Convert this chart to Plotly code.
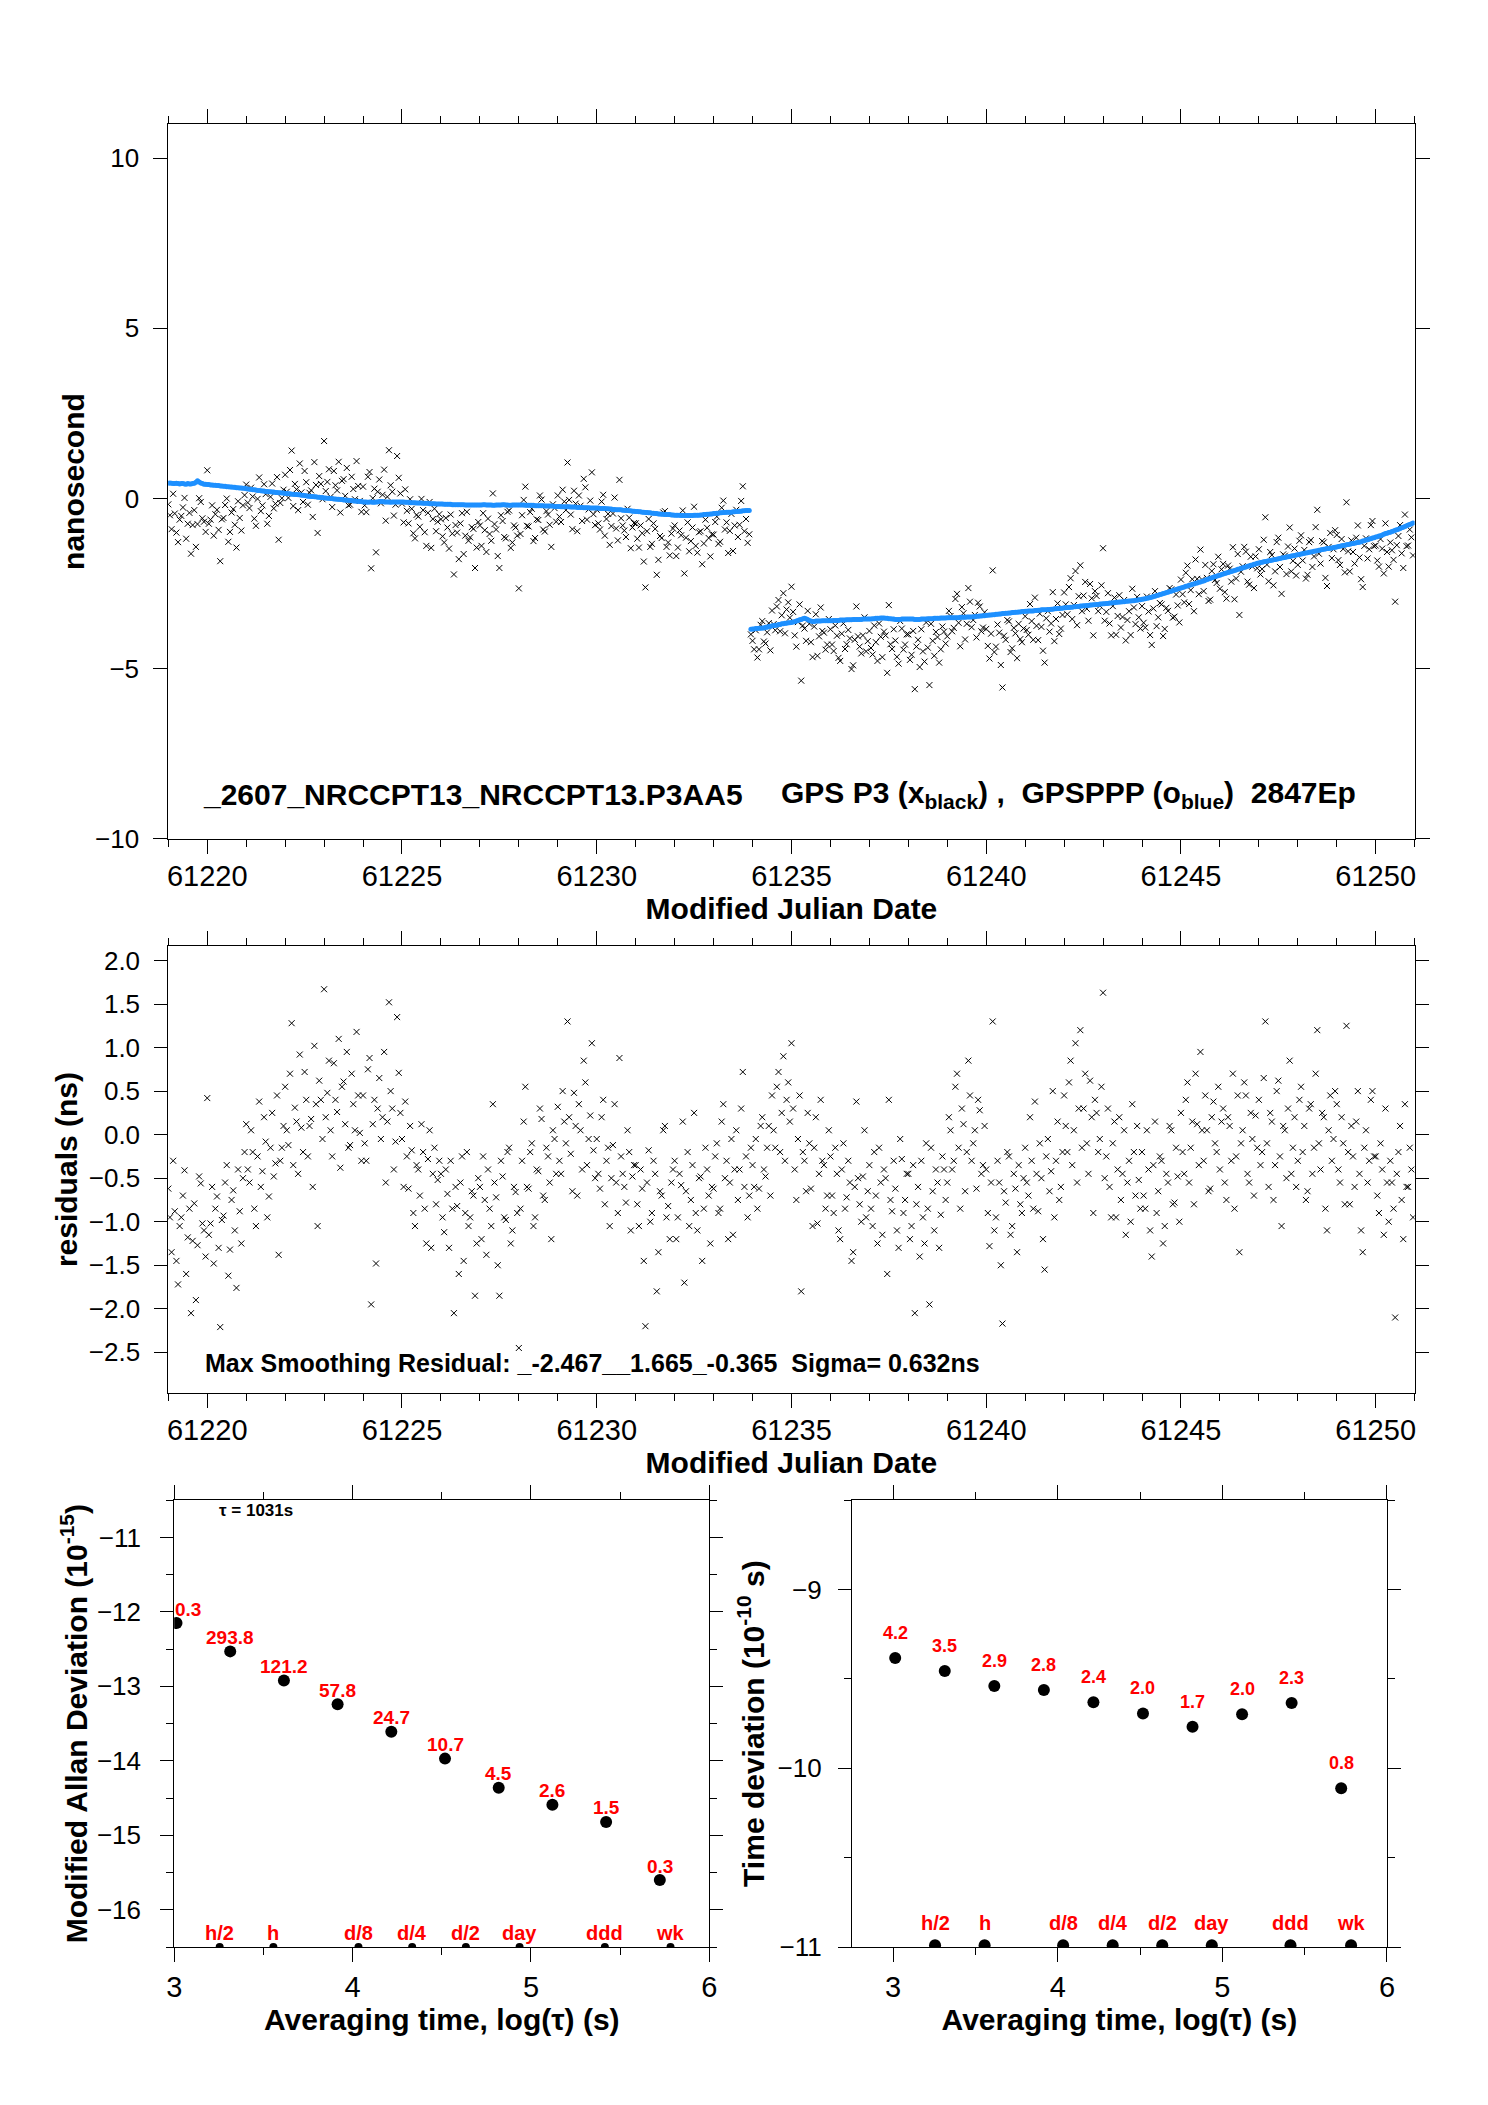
"""
GPS P3 vs GPSPPP comparison - time series, residuals and stability plots
"""
import plotly.graph_objects as go

# ---- data -------------------------------------------------------------
MJD_START = 61219

# GPSPPP (blue) clock difference, ns, one row per day (2 samples per hour)
PPP_NS = [
    [0.45, 0.46, 0.45, 0.44, 0.44, 0.45, 0.44, 0.43, 0.44, 0.44, 0.43, 0.42, 0.44, 0.43, 0.43, 0.44, 0.45, 0.48, 0.52, 0.49, 0.46, 0.44, 0.42, 0.42],
    [0.41, 0.41, 0.40, 0.40, 0.39, 0.39, 0.38, 0.38, 0.37, 0.37, 0.36, 0.36, 0.35, 0.35, 0.34, 0.34, 0.33, 0.33, 0.32, 0.32, 0.31, 0.31, 0.30, 0.30],
    [0.29, 0.28, 0.27, 0.27, 0.26, 0.26, 0.25, 0.24, 0.24, 0.23, 0.22, 0.22, 0.21, 0.21, 0.20, 0.20, 0.19, 0.19, 0.18, 0.18, 0.17, 0.17, 0.16, 0.16],
    [0.15, 0.15, 0.14, 0.14, 0.13, 0.13, 0.12, 0.12, 0.11, 0.11, 0.10, 0.10, 0.09, 0.08, 0.07, 0.07, 0.06, 0.06, 0.05, 0.05, 0.04, 0.04, 0.03, 0.03],
    [0.02, 0.02, 0.01, 0.01, 0.00, 0.00, -0.01, -0.01, -0.02, -0.02, -0.03, -0.03, -0.04, -0.04, -0.05, -0.05, -0.06, -0.06, -0.07, -0.07, -0.08, -0.08, -0.09, -0.09],
    [-0.10, -0.10, -0.10, -0.11, -0.10, -0.10, -0.11, -0.11, -0.10, -0.10, -0.09, -0.09, -0.09, -0.10, -0.10, -0.10, -0.10, -0.11, -0.10, -0.10, -0.10, -0.10, -0.10, -0.10],
    [-0.10, -0.10, -0.11, -0.11, -0.11, -0.12, -0.12, -0.12, -0.12, -0.13, -0.13, -0.13, -0.13, -0.14, -0.14, -0.14, -0.14, -0.15, -0.15, -0.15, -0.15, -0.16, -0.16, -0.16],
    [-0.16, -0.16, -0.17, -0.17, -0.17, -0.17, -0.17, -0.18, -0.18, -0.18, -0.18, -0.18, -0.18, -0.18, -0.18, -0.19, -0.19, -0.19, -0.19, -0.19, -0.19, -0.19, -0.19, -0.19],
    [-0.19, -0.19, -0.18, -0.18, -0.19, -0.19, -0.19, -0.19, -0.20, -0.20, -0.19, -0.19, -0.19, -0.19, -0.18, -0.18, -0.19, -0.19, -0.20, -0.20, -0.19, -0.19, -0.19, -0.19],
    [-0.19, -0.19, -0.19, -0.19, -0.20, -0.20, -0.20, -0.20, -0.20, -0.20, -0.21, -0.21, -0.21, -0.21, -0.21, -0.21, -0.22, -0.22, -0.22, -0.22, -0.22, -0.22, -0.23, -0.23],
    [-0.23, -0.23, -0.24, -0.24, -0.24, -0.24, -0.24, -0.24, -0.25, -0.25, -0.25, -0.25, -0.26, -0.26, -0.26, -0.26, -0.27, -0.27, -0.27, -0.27, -0.28, -0.28, -0.28, -0.28],
    [-0.28, -0.28, -0.29, -0.29, -0.29, -0.29, -0.30, -0.30, -0.31, -0.31, -0.32, -0.32, -0.33, -0.33, -0.33, -0.33, -0.34, -0.34, -0.35, -0.35, -0.36, -0.36, -0.37, -0.37],
    [-0.38, -0.38, -0.39, -0.39, -0.40, -0.40, -0.41, -0.41, -0.42, -0.42, -0.43, -0.43, -0.44, -0.44, -0.45, -0.45, -0.46, -0.46, -0.47, -0.47, -0.47, -0.47, -0.48, -0.48],
    [-0.49, -0.49, -0.49, -0.49, -0.50, -0.50, -0.50, -0.50, -0.50, -0.50, -0.50, -0.50, -0.49, -0.49, -0.49, -0.49, -0.48, -0.48, -0.47, -0.47, -0.46, -0.46, -0.45, -0.45],
    [-0.44, -0.44, -0.43, -0.43, -0.42, -0.42, -0.41, -0.41, -0.40, -0.40, -0.40, -0.40, -0.39, -0.39, -0.38, -0.38, -0.37, -0.37, -0.36, -0.36, -0.35, -0.35, -0.35, -3.84],
    [-3.83, -3.83, -3.82, -3.82, -3.81, -3.81, -3.80, -3.80, -3.78, -3.78, -3.76, -3.76, -3.74, -3.74, -3.72, -3.72, -3.70, -3.70, -3.68, -3.68, -3.66, -3.66, -3.65, -3.65],
    [-3.64, -3.63, -3.62, -3.60, -3.58, -3.56, -3.55, -3.53, -3.52, -3.53, -3.55, -3.58, -3.60, -3.61, -3.61, -3.60, -3.60, -3.60, -3.60, -3.59, -3.59, -3.59, -3.59, -3.59],
    [-3.59, -3.59, -3.58, -3.58, -3.58, -3.58, -3.57, -3.57, -3.57, -3.57, -3.56, -3.56, -3.56, -3.56, -3.55, -3.55, -3.55, -3.55, -3.55, -3.55, -3.54, -3.54, -3.54, -3.54],
    [-3.54, -3.54, -3.53, -3.53, -3.52, -3.52, -3.52, -3.51, -3.51, -3.51, -3.52, -3.52, -3.53, -3.53, -3.54, -3.54, -3.55, -3.55, -3.55, -3.55, -3.54, -3.54, -3.54, -3.54],
    [-3.54, -3.54, -3.54, -3.54, -3.55, -3.55, -3.55, -3.55, -3.54, -3.54, -3.54, -3.54, -3.53, -3.53, -3.53, -3.53, -3.52, -3.52, -3.52, -3.52, -3.51, -3.51, -3.51, -3.51],
    [-3.50, -3.50, -3.50, -3.50, -3.50, -3.50, -3.50, -3.50, -3.49, -3.49, -3.49, -3.49, -3.48, -3.48, -3.48, -3.48, -3.47, -3.47, -3.46, -3.46, -3.45, -3.45, -3.44, -3.44],
    [-3.43, -3.43, -3.42, -3.42, -3.41, -3.41, -3.40, -3.40, -3.39, -3.39, -3.38, -3.38, -3.37, -3.37, -3.36, -3.36, -3.35, -3.35, -3.34, -3.34, -3.33, -3.33, -3.32, -3.32],
    [-3.31, -3.31, -3.30, -3.30, -3.30, -3.30, -3.29, -3.29, -3.28, -3.28, -3.27, -3.27, -3.27, -3.27, -3.26, -3.26, -3.25, -3.25, -3.24, -3.24, -3.23, -3.23, -3.22, -3.22],
    [-3.21, -3.21, -3.20, -3.20, -3.19, -3.19, -3.18, -3.18, -3.17, -3.17, -3.16, -3.16, -3.15, -3.15, -3.14, -3.14, -3.13, -3.13, -3.12, -3.12, -3.11, -3.11, -3.10, -3.10],
    [-3.09, -3.09, -3.08, -3.08, -3.07, -3.07, -3.06, -3.06, -3.05, -3.05, -3.04, -3.04, -3.03, -3.03, -3.02, -3.02, -3.01, -3.01, -3.00, -3.00, -2.99, -2.99, -2.97, -2.97],
    [-2.96, -2.95, -2.94, -2.93, -2.92, -2.91, -2.90, -2.88, -2.87, -2.85, -2.84, -2.82, -2.81, -2.79, -2.78, -2.76, -2.75, -2.73, -2.72, -2.70, -2.69, -2.67, -2.66, -2.64],
    [-2.63, -2.61, -2.60, -2.58, -2.57, -2.55, -2.54, -2.52, -2.51, -2.49, -2.48, -2.46, -2.45, -2.43, -2.42, -2.40, -2.38, -2.36, -2.35, -2.33, -2.31, -2.29, -2.28, -2.26],
    [-2.25, -2.23, -2.22, -2.20, -2.19, -2.17, -2.16, -2.14, -2.13, -2.11, -2.10, -2.08, -2.07, -2.05, -2.04, -2.02, -2.01, -1.99, -1.98, -1.96, -1.95, -1.93, -1.92, -1.90],
    [-1.89, -1.88, -1.87, -1.86, -1.85, -1.84, -1.83, -1.82, -1.81, -1.80, -1.79, -1.78, -1.77, -1.76, -1.75, -1.74, -1.73, -1.72, -1.71, -1.70, -1.69, -1.68, -1.67, -1.66],
    [-1.65, -1.64, -1.63, -1.62, -1.61, -1.60, -1.59, -1.58, -1.57, -1.56, -1.55, -1.54, -1.53, -1.52, -1.51, -1.50, -1.49, -1.48, -1.47, -1.47, -1.46, -1.45, -1.44, -1.43],
    [-1.42, -1.41, -1.40, -1.39, -1.38, -1.37, -1.36, -1.35, -1.34, -1.33, -1.32, -1.31, -1.30, -1.29, -1.28, -1.27, -1.25, -1.24, -1.22, -1.21, -1.19, -1.18, -1.16, -1.15],
    [-1.13, -1.12, -1.10, -1.09, -1.07, -1.05, -1.03, -1.02, -1.00, -0.99, -0.97, -0.95, -0.93, -0.92, -0.90, -0.88, -0.86, -0.84, -0.82, -0.80, -0.78, -0.76, -0.74, -0.72],
]

# residuals GPS P3 - GPSPPP, ns, same epochs as PPP_NS
RESID_NS = [
    [-0.62, -0.95, -1.35, -0.30, -0.88, -1.45, -1.72, -1.05, -0.95, -0.70, -0.41, -1.60, -1.18, -0.85, -2.05, -1.22, -0.79, -1.90, -1.27, -0.48, -0.56, -1.02, -1.10, -1.40],
    [0.42, -1.15, -1.02, -0.60, -1.48, -0.85, -0.71, -1.30, -2.21, -0.98, -0.93, -0.55, -0.35, -1.62, -1.32, -0.75, -0.64, -1.10, -1.76, -0.40, -0.88, -1.25, -0.50, -0.20],
    [0.12, -0.40, -0.55, 0.05, -0.20, -0.85, -1.05, -0.25, 0.38, -0.60, -0.42, 0.20, -0.08, -0.95, -0.71, -0.15, 0.25, -0.48, -0.33, 0.45, -1.38, -0.30, -0.15, 0.10],
    [0.55, 0.05, -0.12, 0.70, 1.28, -0.35, 0.31, 0.15, -0.45, 0.92, 0.08, -0.20, 0.72, 0.40, -0.25, 0.10, 0.18, -0.60, 1.02, 0.35, -1.05, 0.62, 0.40, -0.05],
    [1.67, 0.20, 0.48, 0.85, 0.05, -0.25, 0.82, 0.40, 0.26, 1.10, -0.38, 0.55, 0.61, 0.12, 0.95, -0.15, -0.12, 0.70, 0.35, 0.05, 1.18, 0.45, 0.02, -0.30],
    [0.45, -0.10, -0.30, 0.75, 0.88, -1.95, 0.12, 0.40, -1.48, 0.30, 0.65, -0.05, 0.20, 0.95, -0.55, 0.15, 1.52, 0.50, 0.30, -0.40, -0.08, 1.35, 0.71, 0.25],
    [-0.05, -0.60, 0.38, -0.25, -0.62, 0.10, -0.18, -0.90, -1.05, -0.35, -0.40, -0.70, 0.12, -0.20, -0.85, -1.25, -0.28, 0.05, -1.30, -0.45, -0.15, -0.80, -0.52, -0.30],
    [-0.45, -0.95, -1.12, -0.40, -0.68, -1.30, -0.30, -0.85, -2.05, -0.60, -0.82, -1.60, -0.55, -0.25, -1.45, -0.90, -0.20, -1.05, -0.95, -0.65, -0.70, -1.85, -1.25, -0.50],
    [-0.60, -1.20, -0.25, -0.75, -1.38, -0.40, -0.85, -1.05, 0.35, -0.55, -0.72, -1.50, -1.85, -0.30, -0.48, -0.95, -0.98, -0.20, -0.15, -1.25, -1.10, -0.60, -0.66, -0.90],
    [-2.45, -0.85, -0.30, 0.15, 0.55, -0.60, -0.62, -0.20, -0.10, -1.05, -0.95, -0.40, -0.42, 0.30, 0.18, -0.70, -0.75, -0.15, -0.25, -0.55, -1.20, 0.05, -0.05, -0.45],
    [0.32, -0.30, -0.45, 0.50, 0.15, -0.10, 1.30, 0.20, -0.22, -0.65, 0.48, 0.10, -0.70, 0.35, 0.05, -0.40, 0.85, 0.60, -0.35, -0.05, 0.22, 1.05, -0.18, -0.50],
    [-0.05, -0.45, -0.62, 0.20, 0.40, -0.80, -0.30, -0.15, -1.05, -0.50, -0.12, 0.35, -0.55, -0.90, 0.88, -0.25, -0.45, -0.60, -0.78, 0.05, -0.20, -1.10, -0.48, -0.35],
    [-0.35, -0.80, -1.05, -0.40, -0.62, -1.45, -2.20, -0.55, -0.18, -1.00, -0.90, -0.30, -0.45, -1.80, -1.35, -0.65, -0.70, 0.05, 0.10, -0.95, -0.82, -1.20, -0.55, -0.40],
    [-0.30, -1.20, -0.95, -0.45, -0.58, 0.15, -1.70, -0.65, -0.20, -1.05, -0.75, -0.35, 0.25, -0.90, -1.10, -0.50, -0.48, -1.45, -0.85, -0.15, -0.40, -0.70, -1.25, -0.60],
    [-0.62, -0.25, -0.10, -0.90, -0.85, 0.15, 0.35, -0.50, -0.30, -1.20, -0.55, -0.05, -1.15, -0.40, 0.05, -0.75, -0.40, 0.30, 0.72, -0.60, -0.25, -0.95, -0.70, -0.15],
    [-0.35, -0.60, -0.05, -0.85, -0.62, 0.10, 0.20, -0.40, -0.48, -0.15, 0.10, -0.70, 0.45, 0.05, -0.15, 0.55, 0.72, -0.20, 0.25, 0.90, -0.30, 0.40, 0.60, 0.15],
    [1.05, 0.30, -0.40, -0.75, -0.05, 0.45, -1.80, -0.20, -0.30, -0.65, 0.25, -0.10, -0.62, -1.05, -0.15, 0.20, -1.02, -0.45, 0.40, -0.30, -0.35, -0.85, -0.70, 0.05],
    [-0.25, -0.70, -0.90, -0.15, -0.45, -1.10, -1.20, -0.40, -0.10, -0.85, -0.72, -0.30, -0.55, -1.45, -1.35, -0.60, 0.38, -0.50, -0.80, -1.00, -0.48, 0.05, -0.95, -0.65],
    [-0.35, -0.85, -1.05, -0.20, -0.70, -1.25, -0.15, -0.55, -1.15, -0.40, -0.50, -1.60, 0.40, -0.75, -0.88, -0.30, -0.62, -1.10, -1.30, -0.05, -0.28, -0.90, -0.75, -0.45],
    [-0.45, -1.20, -1.05, -0.35, -2.05, -0.80, -0.60, -1.40, -0.30, -0.95, -1.25, -0.10, -0.85, -1.95, -0.15, -0.65, -1.10, -0.40, -0.55, -1.30, -0.92, -0.25, -0.40, -0.75],
    [-0.55, 0.20, 0.05, -0.40, -0.30, 0.55, 0.70, -0.15, -0.85, 0.30, 0.12, -0.65, -0.20, 0.85, 0.45, -0.30, -0.10, 0.05, -0.62, 0.40, 0.28, -0.45, -0.35, 0.10],
    [-0.40, -0.90, -1.28, -0.55, 1.30, -1.10, -0.95, -0.30, -0.55, -1.50, -2.17, -0.65, -0.78, -0.20, -0.25, -1.15, -1.05, -0.45, -0.62, -1.35, -0.35, -0.80, -0.90, -0.50],
    [-0.15, -0.55, -0.70, 0.20, -0.30, -0.85, 0.38, -0.45, -0.88, -0.10, -0.50, -1.20, -1.55, -0.25, -0.05, -0.65, -0.42, 0.50, -0.95, -0.30, 0.15, -0.75, -0.60, -0.20],
    [0.45, 0.10, -0.20, 0.60, 0.85, -0.35, 0.05, 1.05, -0.55, 0.30, 1.20, -0.15, 0.30, 0.70, -0.10, -0.45, 0.62, 0.20, -0.90, 0.40, 0.25, -0.20, -0.05, 0.55],
    [1.63, -0.50, -0.25, 0.30, -0.60, -0.95, -0.10, 0.15, -0.95, -0.40, 0.20, -0.75, -0.45, 0.05, -1.15, -0.55, -0.30, -1.00, 0.35, -0.20, -0.70, 0.10, -0.52, -0.85],
    [-0.20, -0.70, -0.85, 0.05, -0.40, -1.10, -1.40, -0.35, 0.15, -0.90, -0.65, -0.25, -0.30, -1.25, -1.05, -0.45, -0.55, 0.10, 0.05, -0.80, -0.78, -0.15, -0.48, -1.00],
    [0.25, -0.20, -0.45, 0.40, 0.60, -0.55, -0.15, 0.15, -0.80, 0.70, 0.12, -0.35, 0.95, 0.05, -0.30, 0.45, 0.05, -0.65, -0.62, 0.20, 0.38, -0.10, -0.20, 0.55],
    [-0.40, 0.15, 0.30, -0.55, -0.75, 0.20, 0.10, -0.30, 0.70, -0.85, -0.25, 0.45, -1.35, -0.10, 0.05, 0.60, 0.45, -0.45, -0.55, 0.25, -0.05, -0.70, 0.22, -0.15],
    [0.40, -0.35, -0.20, 0.65, 1.30, -0.10, -0.60, 0.25, 0.15, -0.75, -0.35, 0.50, 0.62, -0.25, -1.05, 0.10, 0.05, -0.50, 0.30, 0.85, -0.45, -0.15, 0.20, -0.60],
    [-0.30, 0.40, 0.55, -0.20, 0.10, -0.75, -0.65, 0.30, 0.35, -0.45, -0.15, 0.70, 1.20, -0.10, -0.40, 0.25, 0.20, -0.85, -1.10, 0.05, 0.45, -0.30, -0.05, 0.50],
    [0.35, -0.40, -0.55, 0.20, -0.10, -0.80, 1.25, -0.20, -0.80, 0.10, -0.25, -0.60, 0.15, 0.50, -0.45, -1.10, -1.35, -0.15, 0.05, -0.55, -0.30, 0.40, 0.50, -0.25],
    [-0.25, -0.70, -0.90, -0.10, -0.40, -1.15, 0.30, -0.55, -1.00, -0.30, -0.55, -0.85, -2.10, -0.45, -0.20, 0.10, -0.75, -1.20, 0.35, -0.60, -0.60, -0.15, -0.40, -0.95],
]

# stability: log10(tau) and log10 of deviations
LOG_TAU = [3.013, 3.314, 3.615, 3.916, 4.217, 4.518, 4.819, 5.120, 5.421, 5.722]
LOG_MDEV = [-12.15, -12.53, -12.92, -13.24, -13.61, -13.97, -14.36, -14.59, -14.82, -15.60]
MDEV_LABELS = ["0.3", "293.8", "121.2", "57.8", "24.7", "10.7", "4.5", "2.6", "1.5", "0.3"]
LOG_TDEV = [-9.383, -9.456, -9.540, -9.562, -9.630, -9.693, -9.768, -9.697, -9.635, -10.111]
TDEV_LABELS = ["4.2", "3.5", "2.9", "2.8", "2.4", "2.0", "1.7", "2.0", "2.3", "0.8"]

# reference averaging times (log10 s)
REF_LOG_TAU = [3.255, 3.556, 4.033, 4.334, 4.635, 4.936, 5.414, 5.782]
REF_NAMES = ["h/2", "h", "d/8", "d/4", "d/2", "day", "ddd", "wk"]

FONT = "Liberation Sans, Arial, Helvetica, sans-serif"
RED = "#ff0000"
BLUE = "#1e90ff"


def build_series():
    """Flatten the per-day rows into epochs and values"""
    mjd, ppp, resid, p3 = [], [], [], []
    for day, (prow, rrow) in enumerate(zip(PPP_NS, RESID_NS)):
        n = min(len(prow), len(rrow))
        for j in range(n):
            mjd.append(MJD_START + day + j / n)
            ppp.append(prow[j])
            resid.append(rrow[j])
            p3.append(prow[j] + rrow[j])
    return mjd, ppp, resid, p3


def create_figure():
    mjd, ppp, resid, p3 = build_series()
    fig = go.Figure()

    xmark = dict(symbol="x-thin", size=6, line=dict(width=1, color="black"))

    # 1. time series
    fig.add_trace(go.Scatter(x=mjd, y=p3, mode="markers", xaxis="x", yaxis="y",
                             marker=xmark, name="GPS P3"))
    fig.add_trace(go.Scatter(x=mjd, y=ppp, mode="markers", xaxis="x", yaxis="y",
                             marker=dict(symbol="circle", size=5, color=BLUE,
                                         line=dict(width=0)),
                             name="GPSPPP"))

    # 2. residuals
    fig.add_trace(go.Scatter(x=mjd, y=resid, mode="markers", xaxis="x2", yaxis="y2",
                             marker=xmark, name="residuals"))

    # 3. modified Allan deviation
    fig.add_trace(go.Scatter(x=LOG_TAU, y=LOG_MDEV, mode="markers", xaxis="x3",
                             yaxis="y3", marker=dict(size=12, color="black"),
                             name="MDEV"))
    fig.add_trace(go.Scatter(x=REF_LOG_TAU, y=[-16.5] * len(REF_LOG_TAU),
                             mode="markers", xaxis="x3", yaxis="y3",
                             marker=dict(size=8, color="black"), name="ref tau"))

    # 4. time deviation
    fig.add_trace(go.Scatter(x=LOG_TAU, y=LOG_TDEV, mode="markers", xaxis="x4",
                             yaxis="y4", marker=dict(size=12, color="black"),
                             name="TDEV"))
    fig.add_trace(go.Scatter(x=REF_LOG_TAU, y=[-10.99] * len(REF_LOG_TAU),
                             mode="markers", xaxis="x4", yaxis="y4",
                             marker=dict(size=12, color="black"), name="ref tau"))

    # annotations
    ann = []
    for i, (x, y, t) in enumerate(zip(LOG_TAU, LOG_MDEV, MDEV_LABELS)):
        ann.append(dict(x=x, y=y, xref="x3", yref="y3", text="<b>%s</b>" % t,
                        showarrow=False, yshift=14,
                        xanchor="left" if i == 0 else "center",
                        xshift=-4 if i == 0 else 0,
                        font=dict(size=19, color=RED)))
    for x, y, t in zip(LOG_TAU, LOG_TDEV, TDEV_LABELS):
        ann.append(dict(x=x, y=y, xref="x4", yref="y4", text="<b>%s</b>" % t,
                        showarrow=False, yshift=25, font=dict(size=18, color=RED)))
    for x, t in zip(REF_LOG_TAU, REF_NAMES):
        ann.append(dict(x=x, y=-16.5, xref="x3", yref="y3", text="<b>%s</b>" % t,
                        showarrow=False, yshift=14, font=dict(size=20, color=RED)))
        ann.append(dict(x=x, y=-11, xref="x4", yref="y4", text="<b>%s</b>" % t,
                        showarrow=False, yshift=24, font=dict(size=20, color=RED)))

    ann.append(dict(x=0.1310, y=0.6200, xref="paper", yref="paper", xanchor="left",
                    text="<b>_2607_NRCCPT13_NRCCPT13.P3AA5</b>", showarrow=False,
                    font=dict(size=30, color="black")))
    ann.append(dict(x=0.5235, y=0.6200, xref="paper", yref="paper", xanchor="left",
                    text="<b>GPS P3 (x<sub>black</sub>) ,\u00a0\u00a0GPSPPP (o<sub>blue</sub>)"
                         "\u00a0\u00a02847Ep</b>", showarrow=False,
                    font=dict(size=30, color="black")))
    ann.append(dict(x=0.1324, y=0.3477, xref="paper", yref="paper", xanchor="left",
                    text="<b>Max Smoothing Residual: _-2.467__1.665_-0.365"
                         "\u00a0\u00a0Sigma= 0.632ns</b>", showarrow=False,
                    font=dict(size=25, color="black")))
    ann.append(dict(x=0.1418, y=0.2717, xref="paper", yref="paper", xanchor="left",
                    text="<b>\u03c4 = 1031s</b>", showarrow=False,
                    font=dict(size=17, color="black")))

    base = dict(showline=True, linecolor="black", linewidth=1, mirror="ticks",
                ticks="outside", tickcolor="black", tickwidth=1, showgrid=False,
                zeroline=False)
    xfont = dict(size=29, color="black")
    yfont = dict(size=26, color="black")
    title_font = dict(size=30, color="black")
    minor = dict(ticklen=7, ticks="outside", tickcolor="black", tickwidth=1,
                 showgrid=False)

    mjd_axis = dict(base, range=[61219, 61251], tick0=61220, dtick=5, ticklen=14,
                    tickformat="d", tickfont=xfont, ticklabelstandoff=-3,
                    minor=dict(minor, dtick=1),
                    title=dict(text="<b>Modified Julian Date</b>", font=title_font,
                               standoff=1))
    tau_axis = dict(base, dtick=1, ticklen=14, tickfont=xfont,
                    minor=dict(minor, dtick=0.5),
                    title=dict(text="<b>Averaging time, log(\u03c4) (s)</b>",
                               font=title_font, standoff=3))

    fig.update_layout(
        width=1488, height=2105,
        margin=dict(l=0, r=0, t=0, b=0),
        paper_bgcolor="white", plot_bgcolor="white",
        showlegend=False,
        font=dict(family=FONT, color="black"),
        annotations=ann,
        xaxis=dict(mjd_axis, domain=[0.1089, 0.9556], anchor="y"),
        yaxis=dict(base, domain=[0.5986, 0.9406], anchor="x", range=[-10, 11],
                   tick0=0, dtick=5, ticklen=14, tickfont=yfont, ticklabelstandoff=9,
                   title=dict(text="<b>nanosecond</b>", font=title_font, standoff=1)),
        xaxis2=dict(mjd_axis, domain=[0.1089, 0.9556], anchor="y2"),
        yaxis2=dict(base, domain=[0.3335, 0.5473], anchor="x2", range=[-2.967, 2.165],
                    tick0=0, dtick=0.5, ticklen=13, tickformat=".1f", tickfont=yfont,
                    ticklabelstandoff=9,
                    title=dict(text="<b>residuals (ns)</b>", font=title_font,
                               standoff=2)),
        xaxis3=dict(tau_axis, domain=[0.1129, 0.4765], anchor="y3", range=[3, 6]),
        yaxis3=dict(base, domain=[0.0684, 0.2822], anchor="x3", range=[-16.5, -10.5],
                    dtick=1, ticklen=13, tickfont=yfont, ticklabelstandoff=14,
                    minor=dict(minor, dtick=0.5),
                    title=dict(text="<b>Modified Allan Deviation (10<sup>-15</sup>)</b>",
                               font=title_font, standoff=0)),
        xaxis4=dict(tau_axis, domain=[0.5733, 0.9368], anchor="y4", range=[2.75, 6]),
        yaxis4=dict(base, domain=[0.0684, 0.2822], anchor="x4", range=[-11, -8.5],
                    dtick=1, ticklen=13, tickfont=yfont, ticklabelstandoff=11,
                    minor=dict(minor, dtick=0.5),
                    title=dict(text="<b>Time deviation (10<sup>-10</sup> s)</b>",
                               font=title_font, standoff=4)),
    )
    return fig


def main():
    fig = create_figure()
    fig.write_html("out.html", config={"displayModeBar": False},
                   post_script="document.body.style.margin='0';")


if __name__ == "__main__":
    main()
